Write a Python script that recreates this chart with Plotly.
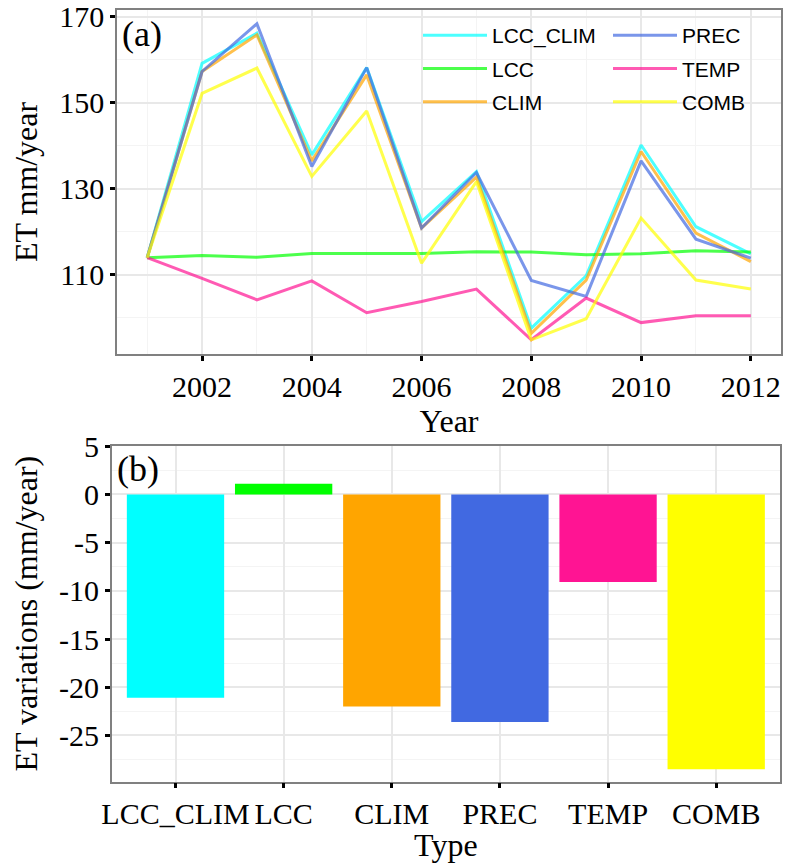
import plotly.graph_objects as go

years = list(range(2001, 2013))
series_names = ["LCC_CLIM", "LCC", "CLIM", "PREC", "TEMP", "COMB"]
lcc_clim = [114.0, 159.2, 166.2, 137.9, 158.2, 122.4, 134.0, 97.6, 109.8, 140.2, 121.2, 114.9]
lcc      = [114.0, 114.5, 114.1, 115.0, 115.0, 115.0, 115.4, 115.3, 114.7, 114.9, 115.6, 115.3]
clim     = [114.0, 157.3, 165.8, 136.5, 156.5, 120.9, 132.7, 96.4, 108.8, 138.7, 119.7, 113.1]
prec     = [114.0, 157.3, 168.4, 135.2, 158.2, 120.9, 133.8, 108.7, 105.0, 136.5, 118.3, 113.9]
temp     = [114.0, 109.2, 104.2, 108.6, 101.2, 103.8, 106.7, 94.9, 104.6, 98.9, 100.5, 100.5]
comb     = [114.0, 152.2, 158.1, 132.9, 148.1, 112.7, 131.7, 94.9, 99.8, 123.2, 108.8, 106.7]
series_values = [lcc_clim, lcc, clim, prec, temp, comb]

bar_types = ["LCC_CLIM", "LCC", "CLIM", "PREC", "TEMP", "COMB"]
bar_values = [-21.1, 1.1, -22.0, -23.6, -9.1, -28.5]

line_colors = ["rgba(0,255,255,0.7)", "rgba(0,255,0,0.7)", "rgba(255,165,0,0.7)",
               "rgba(65,105,225,0.7)", "rgba(255,20,147,0.7)", "rgba(255,255,0,0.7)"]
bar_colors = ["#00ffff", "#00ff00", "#ffa500", "#4169e1", "#ff1493", "#ffff00"]

W, H = 786, 863
fig = go.Figure()

for i, (name, vals) in enumerate(zip(series_names, series_values)):
    fig.add_trace(go.Scatter(
        x=years, y=vals, mode="lines", name=name,
        line=dict(color=line_colors[i], width=3),
        legend="legend" if i < 3 else "legend2",
        legendgroup=name,
        xaxis="x", yaxis="y",
    ))

fig.add_trace(go.Bar(
    x=bar_types, y=bar_values, marker=dict(color=bar_colors, line=dict(width=0)),
    width=0.9, showlegend=False, xaxis="x2", yaxis="y2",
))

serif = "Liberation Serif, Times New Roman, serif"
sans = "Liberation Sans, Arial, sans-serif"
grid_major = "#e8e8e8"
grid_minor = "#f4f4f4"
border = "#808080"

common_axis = dict(
    showline=True, linecolor=border, linewidth=1.5, mirror=True,
    ticks="outside", ticklen=5, tickwidth=2.5, tickcolor="black",
    gridcolor=grid_major, gridwidth=1.5, zeroline=False, automargin=False,
    tickfont=dict(family=serif, size=30, color="black"),
)
title_font = dict(family=serif, size=32, color="black")

fig.update_layout(
    width=W, height=H,
    margin=dict(l=0, r=0, t=0, b=0),
    paper_bgcolor="white", plot_bgcolor="white",
    showlegend=True,
    xaxis=dict(
        domain=[117 / W, 781 / W], anchor="y",
        range=[2000.45, 2012.55], tickvals=[2002, 2004, 2006, 2008, 2010, 2012],
        minor=dict(dtick=1, tick0=2001, showgrid=True, gridcolor=grid_minor, gridwidth=1, ticklen=0),
        title=dict(text="Year", font=title_font, standoff=0),
        **common_axis,
    ),
    yaxis=dict(
        domain=[1 - 354 / H, 1 - 10 / H], anchor="x",
        range=[91.6, 171.6], tickvals=[110, 130, 150, 170],
        minor=dict(tickvals=[100, 120, 140, 160], showgrid=True, gridcolor=grid_minor, gridwidth=1, ticklen=0),
        title=dict(text="ET mm/year", font=title_font, standoff=12),
        **common_axis,
    ),
    xaxis2=dict(
        domain=[111.7 / W, 780 / W], anchor="y2",
        range=[-0.59, 5.59],
        title=dict(text="Type", font=title_font, standoff=0),
        **common_axis,
    ),
    yaxis2=dict(
        domain=[1 - 781.7 / H, 1 - 445.7 / H], anchor="x2",
        range=[-29.8, 5.05], tickvals=[5, 0, -5, -10, -15, -20, -25],
        ticktext=["5", "0", "-5", "-10", "-15", "-20", "-25"],
        minor=dict(tickvals=[2.5, -2.5, -7.5, -12.5, -17.5, -22.5, -27.5], showgrid=True,
                   gridcolor=grid_minor, gridwidth=1, ticklen=0),
        title=dict(text="ET variations (mm/year)", font=title_font, standoff=12),
        **common_axis,
    ),
    legend=dict(
        x=418 / W, y=1 - 15 / H, xanchor="left", yanchor="top",
        bgcolor="rgba(0,0,0,0)", tracegroupgap=3, itemwidth=64,
        font=dict(family=sans, size=21, color="black"),
    ),
    legend2=dict(
        x=608 / W, y=1 - 15 / H, xanchor="left", yanchor="top",
        bgcolor="rgba(0,0,0,0)", tracegroupgap=3, itemwidth=64,
        font=dict(family=sans, size=21, color="black"),
    ),
    annotations=[
        dict(text="(a)", x=0.005, y=0.995, xref="x domain", yref="y domain",
             xanchor="left", yanchor="top", showarrow=False,
             font=dict(family=serif, size=36, color="black")),
        dict(text="(b)", x=0.005, y=0.995, xref="x2 domain", yref="y2 domain",
             xanchor="left", yanchor="top", showarrow=False,
             font=dict(family=serif, size=36, color="black")),
    ],
)

fig.write_html("out.html")
